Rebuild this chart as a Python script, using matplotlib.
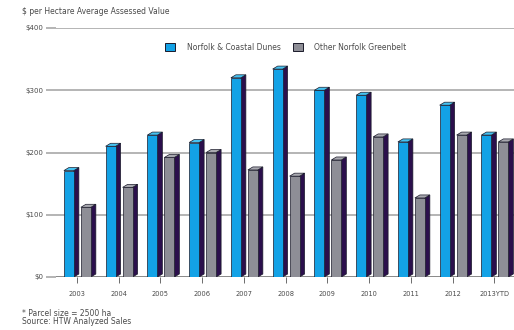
import numpy as np
import matplotlib.pyplot as plt
from matplotlib.patches import Polygon, Patch

# values per hectare, by year
years = ["2003", "2004", "2005", "2006", "2007", "2008", "2009", "2010", "2011", "2012", "2013YTD"]
dunes = [171, 210, 228, 216, 320, 334, 300, 292, 217, 276, 228]
greenbelt = [112, 144, 192, 200, 172, 162, 188, 225, 127, 228, 217]

yticks = [0, 100, 200, 300, 400]
ytick_labels = ["$0", "$100", "$200", "$300", "$400"]

BLUE = "#13a2e6"
BLUE_TOP = "#46c3f2"
GRAY = "#8e8e96"
GRAY_TOP = "#a9a9b0"
SIDE = "#2b0f4c"
TEXT = "#4a4a4a"

W, H = 514, 330
fig = plt.figure(figsize=(W / 100, H / 100), dpi=100)
ax = fig.add_axes([56 / W, 1 - 277 / H, (W - 56) / W, 249 / H])
ax.set_xlim(-0.5, 10.47)
ax.set_ylim(0, 400)

# depth of the fake 3d bars, in data units
px_x = 1 / 41.8
px_y = 400 / 249
dx = 5 * px_x
dy = 3 * px_y
bw = 10 * px_x


def bar3d(x0, h, face, top):
    front = Polygon([(x0, 0), (x0 + bw, 0), (x0 + bw, h), (x0, h)],
                    closed=True, fc=face, ec="#1a1a2a", lw=0.5, zorder=3)
    side = Polygon([(x0 + bw, 0), (x0 + bw + dx, dy), (x0 + bw + dx, h + dy), (x0 + bw, h)],
                   closed=True, fc=SIDE, ec="#1a1a2a", lw=0.5, zorder=3)
    lid = Polygon([(x0, h), (x0 + bw, h), (x0 + bw + dx, h + dy), (x0 + dx, h + dy)],
                  closed=True, fc=top, ec="#1a1a2a", lw=0.5, zorder=3)
    for p in (side, front, lid):
        ax.add_patch(p)


for i in range(len(years)):
    bar3d(i - 13 * px_x, dunes[i], BLUE, BLUE_TOP)
    bar3d(i + 4 * px_x, greenbelt[i], GRAY, GRAY_TOP)

for s in ax.spines.values():
    s.set_visible(False)

ax.set_yticks(yticks)
ax.set_yticklabels(ytick_labels)
ax.yaxis.grid(True, color="#b4b4b4", lw=1.4, zorder=0)
ax.set_axisbelow(True)
ax.axhline(0, color="#8a8a8a", lw=1.4, zorder=2)
ax.tick_params(axis="y", length=7, width=1.4, color="#b4b4b4", labelsize=5, pad=2, labelcolor=TEXT)

ax.set_xticks(range(len(years)))
ax.set_xticklabels(years)
ax.tick_params(axis="x", length=4, width=0.6, color="#555555", labelsize=4.8, pad=6, labelcolor=TEXT)

fs = 5.5
fig.text(22 / W, 1 - 12 / H, "$ per Hectare Average Assessed Value", fontsize=fs, color=TEXT, va="center")
fig.text(22 / W, 1 - 313 / H, "* Parcel size = 2500 ha", fontsize=fs, color=TEXT, va="center")
fig.text(22 / W, 1 - 322 / H, "Source: HTW Analyzed Sales", fontsize=fs, color=TEXT, va="center")

handles = [Patch(fc=BLUE, ec="#1a1a2a", lw=0.7), Patch(fc=GRAY, ec="#1a1a2a", lw=0.7)]
fig.legend(handles, ["Norfolk & Coastal Dunes", "Other Norfolk Greenbelt"],
           loc="center", bbox_to_anchor=(286 / W, 1 - 47 / H), ncol=2, frameon=False,
           fontsize=fs, handlelength=1.3, handleheight=1.4, columnspacing=1.6, handletextpad=1.5,
           labelcolor=TEXT)

fig.savefig("out.png", dpi=100, facecolor="white")
